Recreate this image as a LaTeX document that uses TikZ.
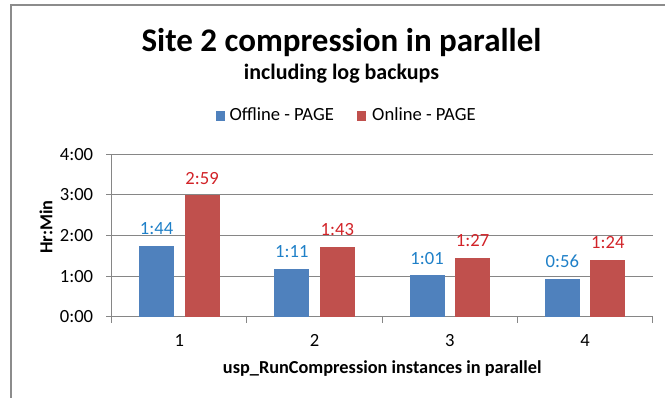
\documentclass[tikz,border=0pt]{standalone}
\usepackage{fontspec}
\setmainfont{Carlito}
\definecolor{offline}{HTML}{4F81BD}
\definecolor{online}{HTML}{C0504D}
\definecolor{offlinelabel}{RGB}{31,128,200}
\definecolor{onlinelabel}{RGB}{210,35,40}
\definecolor{gridgray}{HTML}{868686}
\definecolor{framegray}{HTML}{8C8C8C}
\begin{document}
\begin{tikzpicture}
[x=1pt,y=-1pt,%
  every node/.style={inner sep=0pt,font=\fontsize{18.6}{20}\selectfont},%
  grid/.style={gridgray,line width=1pt},%
  boldtext/.style={font=\fontsize{18.3}{20}\selectfont\bfseries},%
  key/.style={minimum size=9.5pt}]
\useasboundingbox (0,0) rectangle (665,398);
\fill[white] (0,0) rectangle (665,398);
\draw[framegray,line width=2pt] (11,398) -- (11,5) -- (665,5);
% titles and legend
\node[anchor=base,font=\fontsize{33}{36}\selectfont\bfseries] (title) at (341.5,51.5) {Site 2 compression in parallel};
\node[anchor=base,font=\fontsize{22}{24}\selectfont\bfseries] (subtitle) at (341.5,79.5) {including log backups};
\node[key,fill=offline] (offkey) at (220.7,116.2) {};
\node[anchor=base west] (offtext) at (229.3,120.7) {Offline - PAGE};
\node[key,fill=online] (onkey) at (361.7,116.2) {};
\node[anchor=base west] (ontext) at (372,120.7) {Online - PAGE};
\node[boldtext,rotate=90] (ytitle) at (46,227) {Hr:Min};
% plot area
\begin{scope}[shift={(111.7,316.7)},x=135.25pt,y=40.65pt]
  \foreach \h/\t in {0/0:00,1/1:00,2/2:00,3/3:00,4/4:00} {
    \draw[grid] (0,\h) -- (4,\h);
    \draw[grid] (0,\h) -- ++(-5.7pt,0);
    \node[anchor=east] (ytick\h) at (-0.136,\h) {\t};
  }
  \draw[grid] (0,4) -- (0,0);
  \foreach \c in {0,...,4}
    \draw[grid] (\c,0) -- ++(0,-6pt);
  \foreach \i/\a/\b/\ta/\tb in {1/1.7333/2.9833/1:44/2:59,2/1.1833/1.7167/1:11/1:43,
                                3/1.0167/1.45/1:01/1:27,4/0.9333/1.4/0:56/1:24} {
    \fill[offline] (\i-0.5-0.2972,0) rectangle (\i-0.5-0.0384,\a);
    \fill[online] (\i-0.5+0.0384,0) rectangle (\i-0.5+0.2972,\b);
    \node[anchor=base,offlinelabel,yshift=11.3pt] (offval\i) at (\i-0.5-0.168,\a) {\ta};
    \node[anchor=base,onlinelabel,yshift=11.3pt] (onval\i) at (\i-0.5+0.168,\b) {\tb};
    \node[anchor=base,yshift=-30pt] (xcat\i) at (\i-0.5,0) {\i};
  }
  \node[boldtext,anchor=base,yshift=-56.6pt] (xtitle) at (2,0) {usp\_RunCompression instances in parallel};
\end{scope}
\end{tikzpicture}
\end{document}
